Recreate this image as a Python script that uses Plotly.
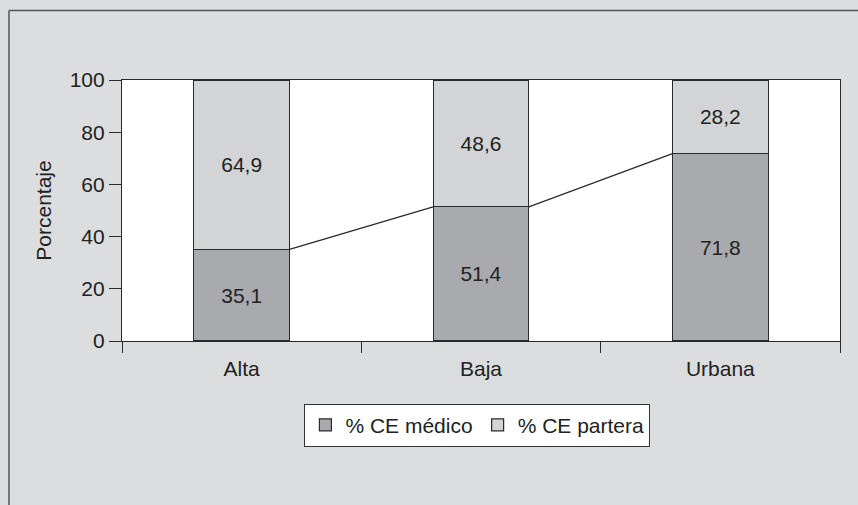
import plotly.graph_objects as go

# Control prenatal por tipo de zona
categorias = ["Alta", "Baja", "Urbana"]
ce_medico = [35.1, 51.4, 71.8]
ce_partera = [64.9, 48.6, 28.2]
y_ticks = [0, 20, 40, 60, 80, 100]

FONT = "Liberation Sans, Arial, sans-serif"
FS = 21
TXT = "#222222"
OSCURO = "#a9aaad"
CLARO = "#d3d4d6"
BORDE = "#2a2a2a"
ANCHO = 0.4

pos = list(range(len(categorias)))


def etiqueta(v):
    return f"{v:.1f}".replace(".", ",")


fig = go.Figure()

fig.add_trace(go.Bar(
    x=pos, y=ce_medico, name="% CE médico", width=ANCHO,
    marker=dict(color=OSCURO, line=dict(color=BORDE, width=1.2)),
    text=[etiqueta(v) for v in ce_medico], textposition="inside",
    insidetextanchor="middle", textangle=0,
    textfont=dict(family=FONT, size=FS, color=TXT),
    hoverinfo="skip",
))
fig.add_trace(go.Bar(
    x=pos, y=ce_partera, name="% CE partera", width=ANCHO,
    marker=dict(color=CLARO, line=dict(color=BORDE, width=1.2)),
    text=[etiqueta(v) for v in ce_partera], textposition="inside",
    insidetextanchor="middle", textangle=0,
    textfont=dict(family=FONT, size=FS, color=TXT),
    hoverinfo="skip",
))

# Líneas de serie entre los tramos inferiores de barras vecinas
for i in range(len(pos) - 1):
    fig.add_trace(go.Scatter(
        x=[pos[i] + ANCHO / 2, pos[i + 1] - ANCHO / 2],
        y=[ce_medico[i], ce_medico[i + 1]],
        mode="lines", line=dict(color=BORDE, width=1.2),
        showlegend=False, hoverinfo="skip",
    ))

# Marco exterior del gráfico (bordes superior e izquierdo)
fig.add_shape(type="line", xref="paper", yref="paper",
              x0=-0.1574, x1=1.2, y0=1.266, y1=1.266,
              line=dict(color="#555555", width=1.5))
fig.add_shape(type="line", xref="paper", yref="paper",
              x0=-0.1574, x1=-0.1574, y0=1.266, y1=-1.0,
              line=dict(color="#555555", width=1.5))

fig.update_layout(
    width=858, height=505,
    margin=dict(l=122, r=18, t=80, b=164),
    paper_bgcolor="#dcdddf", plot_bgcolor="#ffffff",
    barmode="stack",
    font=dict(family=FONT, size=FS, color=TXT),
    showlegend=True,
    legend=dict(
        orientation="h", x=0.495, xanchor="center", y=-0.24, yanchor="top",
        bgcolor="#ffffff", bordercolor="#333333", borderwidth=1,
        font=dict(family=FONT, size=FS, color=TXT),
        traceorder="normal", itemwidth=30,
    ),
    xaxis=dict(
        range=[-0.5, len(pos) - 0.5],
        tickvals=pos, ticktext=categorias,
        ticks="outside", ticklen=9, tickcolor="rgba(0,0,0,0)",
        showline=True, linecolor=BORDE, linewidth=1.2, mirror=True,
        showgrid=False, zeroline=False,
        minor=dict(tickvals=[p - 0.5 for p in pos] + [pos[-1] + 0.5],
                   ticks="outside", ticklen=11, tickcolor=BORDE, tickwidth=1.2,
                   showgrid=False),
        tickfont=dict(family=FONT, size=FS, color=TXT),
        fixedrange=True,
    ),
    yaxis=dict(
        range=[0, 100], tickvals=y_ticks,
        ticks="outside", ticklen=12, tickcolor=BORDE, tickwidth=1.2,
        showline=True, linecolor=BORDE, linewidth=1.2, mirror=True,
        showgrid=False, zeroline=False,
        tickfont=dict(family=FONT, size=FS, color=TXT),
        title=dict(text="Porcentaje", standoff=12,
                   font=dict(family=FONT, size=FS, color=TXT)),
        fixedrange=True,
    ),
)

fig.write_html("out.html")
